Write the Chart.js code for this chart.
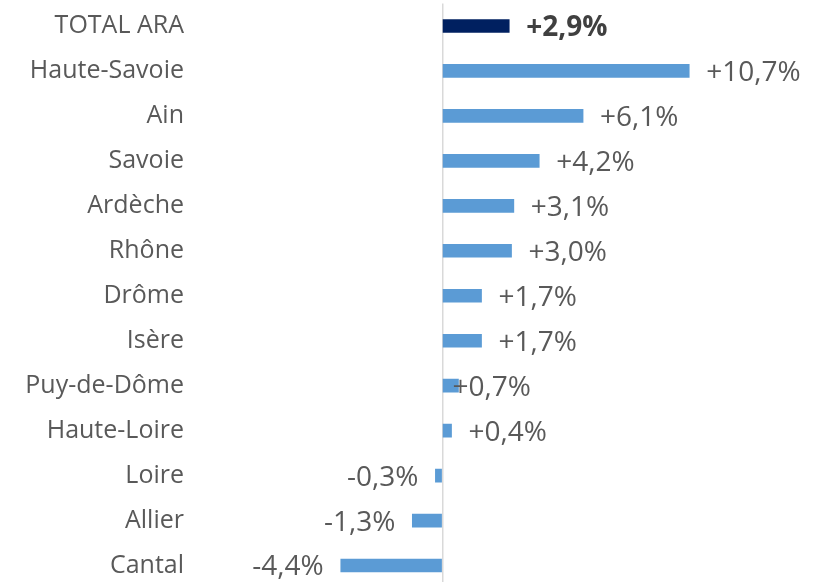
<!DOCTYPE html>
<html>
<head>
<meta charset="utf-8">
<script src="https://cdn.jsdelivr.net/npm/chart.js@4"></script>
<style>
  html, body { margin: 0; padding: 0; background: #fff; overflow: hidden; }
  #wrap { position: relative; width: 819px; height: 588px; }
</style>
</head>
<body>
<div id="wrap"><canvas id="chart"></canvas></div>
<script>
// Departments and their change (%)
const departments = ['TOTAL ARA', 'Haute-Savoie', 'Ain', 'Savoie', 'Ardèche', 'Rhône', 'Drôme',
  'Isère', 'Puy-de-Dôme', 'Haute-Loire', 'Loire', 'Allier', 'Cantal'];
const changes = [2.9, 10.7, 6.1, 4.2, 3.1, 3.0, 1.7, 1.7, 0.7, 0.4, -0.3, -1.3, -4.4];

const FONT = "'Open Sans', sans-serif";
const TEXT = '#595959';

const fmt = v => (v > 0 ? '+' : '') + v.toFixed(1).replace('.', ',') + '%';

// Draw value labels at the end of each bar
const valueLabels = {
  id: 'valueLabels',
  afterDatasetsDraw(chart) {
    const ctx = chart.ctx;
    const meta = chart.getDatasetMeta(0);
    ctx.save();
    ctx.textBaseline = 'middle';
    meta.data.forEach((bar, i) => {
      const v = changes[i];
      ctx.font = (i === 0 ? 'bold ' : '') + '28px ' + FONT;
      ctx.fillStyle = i === 0 ? '#404040' : TEXT;
      let gap = 17;
      if (departments[i] === 'Puy-de-Dôme') gap = -6; // label sits over the bar in the original
      if (v >= 0) {
        ctx.textAlign = 'left';
        ctx.fillText(fmt(v), bar.x + gap, bar.y + 2);
      } else {
        ctx.textAlign = 'right';
        ctx.fillText(fmt(v), bar.x - gap, bar.y + 2);
      }
    });
    ctx.restore();
  }
};

new Chart(document.getElementById('chart'), {
  type: 'bar',
  data: {
    labels: departments,
    datasets: [{
      data: changes,
      backgroundColor: changes.map((v, i) => i === 0 ? '#002060' : '#5B9BD5'),
      barThickness: 13,
      borderWidth: 0
    }]
  },
  options: {
    indexAxis: 'y',
    responsive: true,
    maintainAspectRatio: false,
    animation: false,
    layout: { padding: { top: 3.5, right: 19, left: 0, bottom: 0 } },
    plugins: { legend: { display: false }, tooltip: { enabled: false } },
    scales: {
      x: {
        min: -10.5,
        max: 15.5,
        ticks: { display: false, stepSize: 0.5 },
        border: { display: false },
        grid: {
          drawTicks: false,
          lineWidth: 1.5,
          color: c => (c.tick && c.tick.value === 0) ? '#d9d9d9' : 'rgba(0,0,0,0)'
        },
        afterFit: s => { s.height = 0; s.paddingLeft = 0; s.paddingRight = 0; }
      },
      y: {
        afterFit: s => { s.width = 200; s.paddingTop = 0; s.paddingBottom = 0; },
        border: { display: false },
        grid: { display: false, drawTicks: false },
        ticks: { color: TEXT, padding: 16, font: { family: FONT, size: 25 } }
      }
    }
  },
  plugins: [valueLabels]
});
</script>
</body>
</html>
